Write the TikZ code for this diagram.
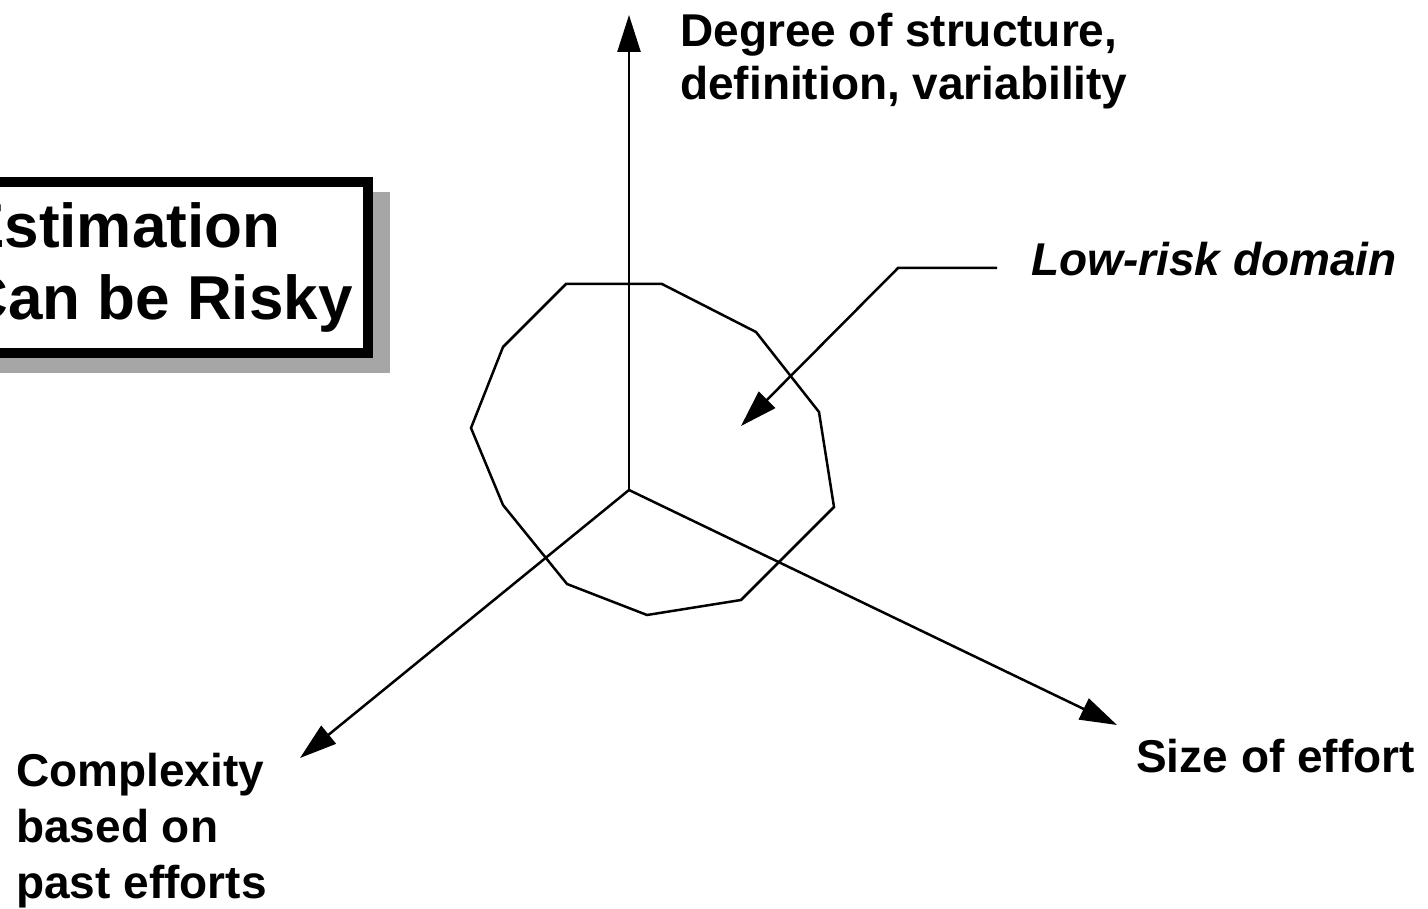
\documentclass[tikz,border=0pt]{standalone}
\usepackage{fontspec}
\setmainfont{Liberation Sans}
\usetikzlibrary{arrows.meta}
\definecolor{shadowgray}{RGB}{166,166,166}
\begin{document}
\begin{tikzpicture}[x=1pt,y=-1pt,line width=2.5pt,
  lab/.style={font=\bfseries\fontsize{46}{56}\selectfont,inner sep=0pt,align=left},
  titletext/.style={font=\bfseries\fontsize{62}{72}\selectfont,inner sep=0pt,align=left},
  axisarrow/.style={-{Triangle[length=37pt,width=23pt]}},
  domainpoly/.style={line join=miter}]
\useasboundingbox (0,0) rectangle (1428,909);
\clip (0,0) rectangle (1428,909);

% title box with shadow
\fill[shadowgray] (-30,192) rectangle (390,373);
\draw[line width=10pt,fill=white] (-30,182) rectangle (368,353);
\node[titletext,anchor=base west] (title) at (-38,320) {Estimation\\Can be Risky};

% axes
\coordinate (O) at (629,490);
\coordinate (up) at (629,15);
\coordinate (ll) at (300,758);
\coordinate (rr) at (1117,725);
\draw[axisarrow] (O) -- (up);
\draw[axisarrow] (O) -- (ll);
\draw[axisarrow] (O) -- (rr);

% low-risk domain polygon
\coordinate (p1) at (566,284);
\coordinate (p2) at (662,284);
\coordinate (p3) at (756,332);
\coordinate (p4) at (819,412);
\coordinate (p5) at (834,507);
\coordinate (p6) at (741,600);
\coordinate (p7) at (647,615);
\coordinate (p8) at (567,584);
\coordinate (p9) at (503,505);
\coordinate (p10) at (471,428);
\coordinate (p11) at (503,347);
\draw[domainpoly] (p1) -- (p2) -- (p3) -- (p4) -- (p5) -- (p6) -- (p7) -- (p8) -- (p9) -- (p10) -- (p11) -- cycle;

% labels
\node[lab,anchor=base west,font=\bfseries\fontsize{46}{53}\selectfont] (deg) at (679,100) {Degree of structure,\\definition, variability};
\node[lab,anchor=base west,font=\bfseries\itshape\fontsize{46}{55}\selectfont] (lowrisk) at (1030,276) {Low-risk domain};
\node[lab,anchor=base west] (comp) at (15,898) {Complexity\\based on\\past efforts};
\node[lab,anchor=base west] (size) at (1135,772) {Size of effort};

% pointer to domain
\coordinate (lr1) at (997,268);
\coordinate (lr2) at (898,268);
\coordinate (lrtip) at (741,426);
\draw[axisarrow] (lr1) -- (lr2) -- (lrtip);
\end{tikzpicture}
\end{document}
